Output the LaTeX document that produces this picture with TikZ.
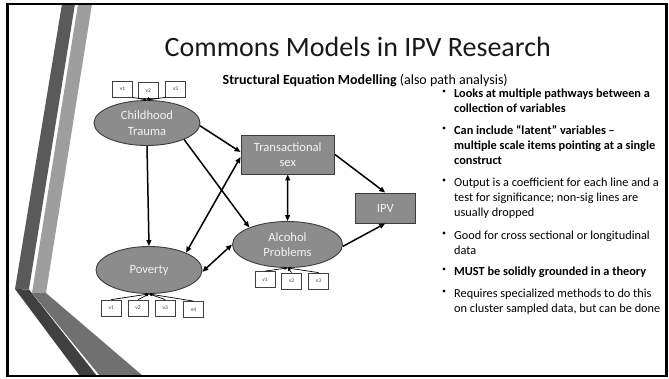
\documentclass[tikz,border=0pt]{standalone}
\usepackage{fontspec}
\setmainfont{Carlito}
\usetikzlibrary{arrows.meta,shapes.geometric}
\definecolor{shapefill}{HTML}{8C8C8C}
\definecolor{edgegray}{HTML}{3C3C3C}
\definecolor{labelwhite}{HTML}{F2F2F2}
\definecolor{boxgray}{HTML}{404040}
\definecolor{decodark}{HTML}{5A5A5A}
\definecolor{decolight}{HTML}{9E9E9E}
\definecolor{decodarklow}{HTML}{404040}
\definecolor{decolightlow}{HTML}{707070}
\begin{document}
\begin{tikzpicture}[x=1pt,y=-1pt,
  latent/.style={ellipse, draw=edgegray, line width=0.9pt, fill=shapefill, text=labelwhite,
    inner sep=0pt, align=center, font=\fontsize{12.6}{15.5}\selectfont},
  observed/.style={rectangle, draw=edgegray, line width=0.9pt, fill=shapefill, text=labelwhite,
    inner sep=0pt, align=center, font=\fontsize{12.6}{15.5}\selectfont},
  ind/.style={rectangle, draw=boxgray, fill=white, line width=0.8pt, minimum width=20pt,
    minimum height=16pt, inner sep=0pt, text=boxgray, font=\fontsize{5.5}{6}\selectfont},
  pathar/.style={-{Triangle[length=6pt,width=4.8pt]}, line width=1.5pt},
  dpathar/.style={{Triangle[length=6pt,width=4.8pt]}-{Triangle[length=6pt,width=4.8pt]}, line width=1.5pt},
  indar/.style={-{Triangle[length=3pt,width=2.6pt]}, line width=0.7pt},
  btext/.style={anchor=base west, inner sep=0pt, font=\fontsize{12.3}{15}\selectfont},
  bbold/.style={btext, font=\fontsize{12.3}{15}\bfseries}]
\useasboundingbox (0,0) rectangle (669,378);
% left decoration
\fill[decodark] (62,4) -- (75,4) -- (29,289) -- (15,289) -- cycle;
\fill[decolight] (78,4) -- (92,4) -- (46,293) -- (32,293) -- cycle;
\fill[decodarklow] (15,289) -- (29,289.5) -- (97,376) -- (80,376) -- cycle;
\fill[decolightlow] (32,293) -- (46,293) -- (143,376) -- (100,376) -- cycle;
% frame
\draw[line width=2.6pt] (7.3,3.8) rectangle (666.5,376);
% title
\node[anchor=base west, inner sep=0pt, font=\fontsize{28}{32}\selectfont, text=black!90] (title) at (164.5,56) {Commons Models in IPV Research};
\node[anchor=base west, inner sep=0pt, font=\fontsize{14}{16}\selectfont] (sub) at (222.5,84) {\textbf{Structural Equation Modelling} (also path analysis)};
% diagram nodes
\node[latent, minimum width=106pt, minimum height=45pt] (ct) at (147,123) {Childhood\\Trauma};
\node[observed, minimum width=93.5pt, minimum height=39pt] (trans) at (287.75,154.5) {Transactional\\sex};
\node[observed, minimum width=59.5pt, minimum height=30pt] (ipv) at (385.25,208) {IPV};
\node[latent, minimum width=110pt, minimum height=46pt] (alc) at (287.5,244.5) {Alcohol\\Problems};
\node[latent, minimum width=106pt, minimum height=47pt] (pov) at (149,270) {Poverty};
% indicators
\node[ind] (c1) at (122.5,89) {v1};
\node[ind] (c2) at (148.3,90.5) {v2};
\node[ind] (c3) at (175.5,89) {v3};
\node[ind] (a1) at (265,279.5) {v1};
\node[ind] (a2) at (291.6,281) {v2};
\node[ind] (a3) at (318.5,281) {v3};
\node[ind] (p1) at (111.3,308) {v1};
\node[ind] (p2) at (138,308) {v2};
\node[ind] (p3) at (165.3,308) {v3};
\node[ind] (p4) at (193.5,309.5) {v4};
% indicator arrows
\draw[indar] (c1.south east) -- (ct.north);
\draw[indar] (c2.south) -- (ct.north);
\draw[indar] (c3.south west) -- (ct.north);
\draw[indar] (a1.north) -- (alc.south);
\draw[indar] (a2.north) -- (alc.south);
\draw[indar] (a3.north) -- (alc.south);
\draw[indar] (p1.north) -- (pov.south);
\draw[indar] (p2.north) -- (pov.south);
\draw[indar] (p3.north) -- (pov.south);
\draw[indar] (p4.north) -- (pov.south);
% structural paths
\draw[pathar] (ct.-3) -- (trans.177);
\draw[pathar] (ct.-24) -- (alc.156);
\draw[pathar] (ct.south) -- (pov.north);
\draw[dpathar] (pov.25) -- (trans.183);
\draw[dpathar] (pov.-2) -- (alc.180);
\draw[dpathar] (trans.south) -- (alc.north);
\draw[pathar] (trans.east) -- (ipv.north);
\draw[pathar] (alc.-2) -- (ipv.south);
% bullets
\foreach \y/\n in {91/d1,128/d2,180/d3,233/d4,269/d5,291/d6}
  \fill (444,\y) circle (1.6pt) coordinate (\n);
\node[bbold] (b1a) at (454,97.5) {Looks at multiple pathways between a};
\node[bbold] (b1b) at (454,112.5) {collection of variables};
\node[bbold] (b2a) at (454,134) {Can include “latent” variables –};
\node[bbold] (b2b) at (454,149) {multiple scale items pointing at a single};
\node[bbold] (b2c) at (454,164) {construct};
\node[btext] (b3a) at (454,186.5) {Output is a coefficient for each line and a};
\node[btext] (b3b) at (454,201.5) {test for significance; non-sig lines are};
\node[btext] (b3c) at (454,216.5) {usually dropped};
\node[btext] (b4a) at (454,239) {Good for cross sectional or longitudinal};
\node[btext] (b4b) at (454,254) {data};
\node[bbold] (b5a) at (454,275.5) {MUST be solidly grounded in a theory};
\node[btext] (b6a) at (454,297.5) {Requires specialized methods to do this};
\node[btext] (b6b) at (454,312.5) {on cluster sampled data, but can be done};
\end{tikzpicture}
\end{document}
